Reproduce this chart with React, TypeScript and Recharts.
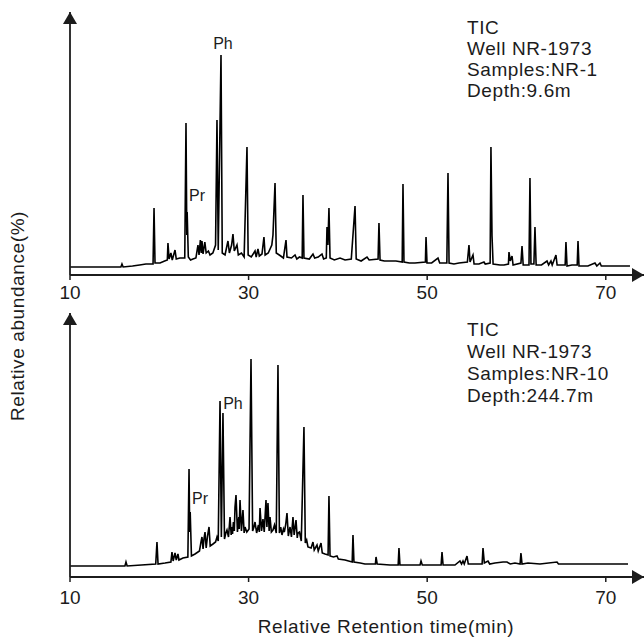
import React from "react";
import { LineChart, Line, XAxis, YAxis, ReferenceDot } from "recharts";

// retention time (min) vs abundance
const xTicks = [10, 30, 50, 70];

const topTrace: [number, number][] = [
  [10, 8], [12, 8], [13.5, 8], [15.7, 8], [15.82, 11], [15.95, 8], [17, 9], [17.8, 10],
  [18.5, 11], [19.3, 11], [19.41, 67], [19.52, 12], [20.08, 12], [20.6, 14], [20.9, 15],
  [20.97, 32], [21.1, 16], [21.3, 22], [21.45, 15], [21.76, 25], [21.9, 16], [22.3, 17],
  [22.85, 17], [22.99, 152], [23.08, 40], [23.12, 63], [23.25, 18], [23.5, 15], [23.77, 16],
  [24.1, 17], [24.33, 30], [24.45, 20], [24.6, 35], [24.7, 22], [24.78, 34], [24.9, 21],
  [25.1, 33], [25.25, 22], [25.5, 24], [25.68, 20], [26.0, 22], [26.3, 30], [26.46, 155],
  [26.6, 25], [26.91, 220], [27.05, 22], [27.36, 20], [27.69, 34], [27.85, 22], [28.1, 30],
  [28.25, 41], [28.4, 24], [28.7, 30], [28.85, 20], [29.2, 22], [29.5, 18], [29.82, 128],
  [29.95, 20], [30.3, 18], [30.72, 24], [30.85, 18], [31.05, 26], [31.2, 19], [31.5, 21],
  [31.72, 38], [31.85, 20], [32.2, 22], [32.6, 30], [32.73, 40], [32.96, 92], [33.1, 22],
  [33.6, 19], [33.9, 17], [34.19, 35], [34.3, 18], [34.8, 17], [35.2, 20], [35.4, 16],
  [35.7, 18], [36.0, 17], [36.09, 80], [36.2, 17], [36.8, 16], [37.21, 21], [37.4, 17],
  [37.8, 18], [38.22, 21], [38.4, 16], [38.7, 17], [38.78, 48], [38.88, 30], [39.0, 67],
  [39.12, 17], [39.6, 15], [40.24, 17], [40.8, 15], [41.5, 16], [41.92, 69], [42.05, 16],
  [42.6, 14], [43.26, 18], [43.5, 15], [44.5, 16], [44.6, 52], [44.72, 15], [45.2, 14],
  [45.83, 14], [46.5, 14], [47.2, 13], [47.29, 91], [47.4, 13], [48.0, 12], [48.63, 12],
  [49.8, 13], [49.87, 38], [49.98, 12], [50.5, 12], [51.21, 17], [51.4, 12], [52.2, 12],
  [52.33, 102], [52.45, 12], [53.0, 11], [53.56, 12], [54.5, 13], [54.68, 30], [54.8, 13],
  [55.13, 20], [55.25, 11], [55.8, 11], [56.36, 13], [56.5, 11], [57.05, 12], [57.14, 128],
  [57.26, 39], [57.38, 11], [58.15, 10], [58.6, 10], [59.1, 11], [59.16, 23], [59.3, 14],
  [59.5, 19], [59.62, 10], [60.5, 12], [60.62, 29], [60.75, 10], [61.4, 10], [61.51, 97],
  [61.62, 11], [61.95, 11], [62.07, 48], [62.2, 10], [62.8, 10], [63.42, 14], [63.6, 10],
  [63.86, 14], [64.0, 10], [64.42, 20], [64.55, 10], [65.45, 10], [65.54, 33], [65.66, 9],
  [66.2, 10], [66.8, 10], [66.89, 34], [67.0, 9], [68.0, 9], [68.79, 12], [69.0, 9],
  [69.35, 12], [69.5, 9], [71, 9], [72.71, 9],
];

const bottomTrace: [number, number][] = [
  [10, 11], [13, 11], [16.15, 11], [16.27, 15], [16.4, 11], [18, 12], [19.6, 13], [19.74, 35],
  [19.86, 13], [20.64, 14], [21.3, 15], [21.42, 25], [21.55, 16], [21.76, 24], [21.9, 17],
  [22.09, 23], [22.2, 17], [22.65, 19], [23.2, 20], [23.33, 108], [23.4, 45], [23.46, 65],
  [23.6, 21], [24.0, 23], [24.5, 26], [24.65, 34], [24.78, 40], [24.9, 28], [25.0, 38],
  [25.12, 45], [25.25, 29], [25.4, 41], [25.57, 50], [25.7, 31], [26.01, 33], [26.3, 35],
  [26.46, 40], [26.6, 36], [26.8, 176], [26.95, 40], [27.13, 164], [27.3, 38], [27.45, 44],
  [27.58, 47], [27.75, 40], [27.92, 60], [28.05, 42], [28.15, 50], [28.2, 43], [28.3, 55],
  [28.4, 46], [28.48, 70], [28.59, 82], [28.75, 45], [28.9, 60], [28.95, 48], [29.04, 77],
  [29.2, 46], [29.37, 67], [29.5, 44], [29.6, 50], [29.8, 45], [30.05, 48], [30.27, 218],
  [30.45, 46], [30.6, 50], [30.72, 55], [30.9, 44], [31.1, 52], [31.2, 45], [31.28, 69],
  [31.45, 46], [31.61, 58], [31.75, 45], [31.95, 77], [32.05, 50], [32.17, 74], [32.3, 46],
  [32.4, 60], [32.55, 45], [32.73, 47], [32.9, 52], [33.1, 44], [33.29, 212], [33.45, 44],
  [33.6, 50], [33.74, 42], [33.9, 48], [34.0, 45], [34.15, 52], [34.3, 64], [34.45, 41],
  [34.64, 50], [34.8, 40], [34.97, 60], [35.1, 42], [35.31, 57], [35.45, 39], [35.53, 44],
  [35.7, 45], [35.9, 36], [36.2, 150], [36.35, 34], [36.5, 37], [36.65, 30], [37.0, 29],
  [37.21, 35], [37.35, 27], [37.66, 32], [37.8, 26], [38.11, 34], [38.25, 24], [38.56, 23],
  [38.9, 22], [39.0, 81], [39.12, 21], [39.5, 20], [39.9, 21], [40.05, 18], [40.8, 17],
  [41.2, 16], [41.6, 15], [41.69, 42], [41.8, 15], [42.5, 14], [43.03, 13], [44.2, 13],
  [44.27, 20], [44.4, 13], [45.83, 12], [46.75, 12], [46.84, 29], [46.95, 12], [48.07, 12],
  [49.2, 12], [49.31, 16], [49.45, 12], [50.31, 12], [51.56, 12], [51.66, 25], [51.78, 12],
  [53.11, 12], [53.67, 16], [53.85, 13], [54.01, 16], [54.15, 13], [54.46, 21], [54.6, 13],
  [55.35, 13], [56.15, 13], [56.25, 29], [56.4, 14], [56.81, 16], [57.0, 13], [57.59, 14],
  [58.49, 15], [58.94, 15], [59.3, 13], [59.83, 14], [60.4, 13], [60.5, 24], [60.62, 13],
  [61.29, 14], [62.63, 13], [64.54, 15], [64.7, 13], [67.11, 13], [69.35, 13], [72.49, 13],
];

const topInfo = ["TIC", "Well NR-1973", "Samples:NR-1", "Depth:9.6m"];
const bottomInfo = ["TIC", "Well NR-1973", "Samples:NR-10", "Depth:244.7m"];

const topPeakLabels = [
  { name: "Pr", t: 24.22, v: 80 },
  { name: "Ph", t: 27.13, v: 232 },
];
const bottomPeakLabels = [
  { name: "Pr", t: 24.56, v: 79 },
  { name: "Ph", t: 28.25, v: 174 },
];

const FONT = '"Liberation Sans", Arial, sans-serif';
const INK = "#1c1c1c";

type Props = {
  id: string;
  trace: [number, number][];
  labels: { name: string; t: number; v: number }[];
  top: number;
  height: number;
  marginTop: number;
  yMax: number;
  xAxisHeight: number;
  tickMargin: number;
};

function Chromatogram({ id, trace, labels, top, height, marginTop, yMax, xAxisHeight, tickMargin }: Props) {
  const data = trace.map(([t, v]) => ({ t, v }));
  const arrow = `url(#${id}-arrow)`;
  return (
    <div style={{ position: "absolute", left: 0, top }}>
      <LineChart width={644} height={height} data={data} margin={{ top: marginTop, right: 0, bottom: 0, left: 0 }}>
        <defs>
          <marker
            id={`${id}-arrow`}
            viewBox="0 0 12 14"
            refX="12"
            refY="7"
            markerWidth="12"
            markerHeight="14"
            markerUnits="userSpaceOnUse"
            orient="auto-start-reverse"
          >
            <path d="M0,0 L12,7 L0,14 Z" fill={INK} />
          </marker>
        </defs>
        <XAxis
          type="number"
          dataKey="t"
          domain={[10, 74.28]}
          ticks={xTicks}
          allowDataOverflow
          height={xAxisHeight}
          tickSize={5}
          tickMargin={tickMargin}
          axisLine={{ stroke: INK, strokeWidth: 1.8, markerEnd: arrow }}
          tickLine={{ stroke: INK, strokeWidth: 1.5 }}
          tick={{ fontSize: 19, fill: INK, fontFamily: FONT }}
        />
        <YAxis
          type="number"
          domain={[0, yMax]}
          allowDataOverflow
          width={70}
          tick={false}
          tickLine={false}
          axisLine={{ stroke: INK, strokeWidth: 1.8, markerStart: arrow }}
        />
        <Line type="linear" dataKey="v" stroke="#000" strokeWidth={1.6} dot={false} isAnimationActive={false} />
        {labels.map((l) => (
          <ReferenceDot
            key={l.name}
            x={l.t}
            y={l.v}
            r={0}
            fill="none"
            stroke="none"
            label={{ value: l.name, position: "center", fontSize: 16, fill: INK, fontFamily: FONT }}
          />
        ))}
      </LineChart>
    </div>
  );
}

function InfoBlock({ lines, top, lineHeight }: { lines: string[]; top: number; lineHeight: number }) {
  return (
    <div
      style={{
        position: "absolute",
        left: 467,
        top,
        fontFamily: FONT,
        fontSize: 19,
        letterSpacing: 0.6,
        lineHeight: `${lineHeight}px`,
        color: INK,
        whiteSpace: "nowrap",
      }}
    >
      {lines.map((s) => (
        <div key={s}>{s}</div>
      ))}
    </div>
  );
}

export default function App() {
  return (
    <div style={{ position: "absolute", left: 0, top: 0, width: 644, height: 638, background: "#fff", overflow: "hidden" }}>
      <Chromatogram
        id="top"
        trace={topTrace}
        labels={topPeakLabels}
        top={0}
        height={305}
        marginTop={12}
        yMax={263}
        xAxisHeight={30}
        tickMargin={6}
      />
      <Chromatogram
        id="bottom"
        trace={bottomTrace}
        labels={bottomPeakLabels}
        top={300}
        height={338}
        marginTop={13}
        yMax={264}
        xAxisHeight={61}
        tickMargin={9}
      />
      <InfoBlock lines={topInfo} top={16.5} lineHeight={21} />
      <InfoBlock lines={bottomInfo} top={318.5} lineHeight={22} />
      <div
        style={{
          position: "absolute",
          left: 18,
          top: 316,
          transform: "translate(-50%, -50%) rotate(-90deg)",
          fontFamily: FONT,
          fontSize: 19,
          letterSpacing: 0.6,
          color: INK,
          whiteSpace: "nowrap",
        }}
      >
        Relative abundance(%)
      </div>
      <div
        style={{
          position: "absolute",
          left: 386,
          top: 627,
          transform: "translate(-50%, -50%)",
          fontFamily: FONT,
          fontSize: 19,
          letterSpacing: 0.6,
          color: INK,
          whiteSpace: "nowrap",
        }}
      >
        Relative Retention time(min)
      </div>
    </div>
  );
}
